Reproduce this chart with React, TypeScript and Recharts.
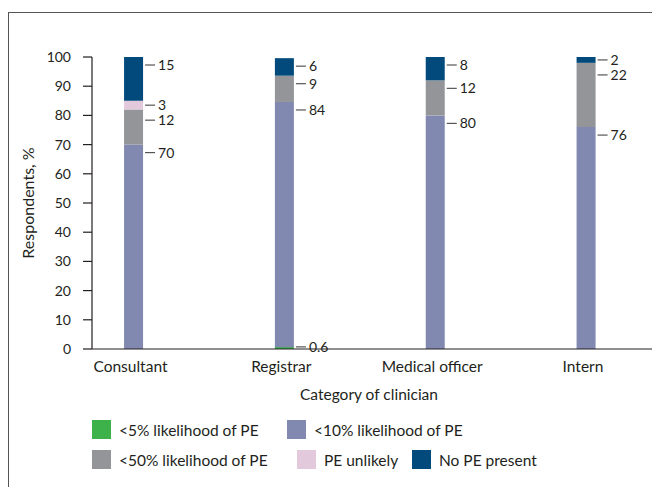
import { BarChart, Bar, XAxis, YAxis, LabelList } from "recharts"

const categories = ["Consultant", "Registrar", "Medical officer", "Intern"]
const seriesNames = [
    "<5% likelihood of PE",
    "<10% likelihood of PE",
    "<50% likelihood of PE",
    "PE unlikely",
    "No PE present",
]
const seriesColors = ["#3db14a", "#8189b0", "#939598", "#e3c9dc", "#024a7c"]

// percent of respondents, bottom to top of each stack
const lt5 = [0, 0.6, 0, 0]
const lt10 = [70, 84, 80, 76]
const lt50 = [12, 9, 12, 22]
const unlikely = [3, 0, 0, 0]
const noPE = [15, 6, 8, 2]
const series = [lt5, lt10, lt50, unlikely, noPE]

const yTicks = [0, 10, 20, 30, 40, 50, 60, 70, 80, 90, 100]
const xTicks = [0, 1, 2, 3]

const data = categories.map((name, i) => {
    const row: { [k: string]: string | number } = { idx: i, name }
    series.forEach((s, j) => {
        row["s" + j] = s[i]
    })
    return row
})

const FONT = "Lato, sans-serif"
const FS = 15.5 // words
const NS = 14 // numbers
const INK = "#231f20"

// legend layout (two rows as in the figure)
const legendSlots = [
    { left: 92, top: 420 },
    { left: 287, top: 420 },
    { left: 92, top: 450 },
    { left: 297, top: 450 },
    { left: 412, top: 450 },
]

// px below a segment's top where its leader line goes; labels are pushed
// down so they don't run into the label of the segment above
function leaderOffset(cat: number, j: number, ppu: number) {
    let prev = -Infinity
    for (let k = series.length - 1; k >= 0; k--) {
        const v = series[k][cat]
        const topPx = series.slice(k + 1).reduce((a, s) => a + s[cat], 0) * ppu
        if (v > 0) {
            let ly = topPx + Math.min(8, (v * ppu) / 2)
            if (ly < prev + 15) ly = prev + 15
            prev = ly
            if (k === j) return ly - topPx
        }
    }
    return 8
}

function makeTag(j: number) {
    return function ValueTag(props: any) {
        const parts = String(props.value ?? "").split("|")
        const cat = parts.length === 2 ? Number(parts[0]) : Number(props.index)
        const value = parts.length === 2 ? Number(parts[1]) : Number(props.value)
        if (!value) return null
        const vb = props.viewBox ?? props
        const x = Number(vb.x)
        const y = Number(vb.y)
        const h = Number(vb.height)
        const w = Number(vb.width)
        const top = Math.min(y, y + h)
        const ppu = 292 / 100
        const ly = top + leaderOffset(cat, j, ppu)
        const x0 = x + w + 2
        return (
            <g>
                <line x1={x0} x2={x0 + 10} y1={ly} y2={ly} stroke="#555" strokeWidth={1.2} />
                <text x={x0 + 13} y={ly} dy="0.35em" fontSize={NS} fill={INK} fontFamily={FONT}>
                    {value}
                </text>
            </g>
        )
    }
}

export default function App() {
    return (
        <div style={{ position: "absolute", left: 0, top: 0, width: 652, height: 487, background: "#fff", overflow: "hidden" }}>
            <div
                style={{
                    position: "absolute",
                    left: 8,
                    top: 12,
                    width: 700,
                    height: 500,
                    borderTop: "1px solid #555",
                    borderLeft: "1px solid #555",
                }}
            />
            <BarChart
                width={652}
                height={487}
                data={data}
                margin={{ top: 57, right: 0, left: 0, bottom: 78 }}
                style={{ fontFamily: FONT }}
            >
                <XAxis
                    type="number"
                    dataKey="idx"
                    domain={[-0.275, 3.4376]}
                    ticks={xTicks}
                    tickFormatter={(v: number) => categories[v] ?? ""}
                    tickLine={false}
                    tickSize={0}
                    tickMargin={12}
                    height={60}
                    axisLine={{ stroke: INK, strokeWidth: 1.2 }}
                    tick={{ fill: INK, fontSize: FS, fontFamily: FONT, dx: -3 }}
                    interval={0}
                    label={{
                        content: (p: any) => (
                            <text
                                x={p.viewBox.x + p.viewBox.width / 2 - 3}
                                y={p.viewBox.y + 51}
                                textAnchor="middle"
                                fontSize={FS}
                                fill={INK}
                                fontFamily={FONT}
                            >
                                Category of clinician
                            </text>
                        ),
                    }}
                />
                <YAxis
                    width={92}
                    domain={[0, 100]}
                    ticks={yTicks}
                    interval={0}
                    tickSize={9}
                    tickMargin={12}
                    axisLine={{ stroke: INK, strokeWidth: 1.2 }}
                    tickLine={{ stroke: INK, strokeWidth: 1.2 }}
                    tick={{ fill: INK, fontSize: NS, fontFamily: FONT }}
                    label={{
                        content: (p: any) => {
                            const cy = p.viewBox.y + p.viewBox.height / 2
                            return (
                                <text
                                    x={33.5}
                                    y={cy}
                                    transform={`rotate(-90, 33.5, ${cy})`}
                                    textAnchor="middle"
                                    fontSize={16}
                                    fill={INK}
                                    fontFamily={FONT}
                                >
                                    Respondents, %
                                </text>
                            )
                        },
                    }}
                />
                {series.map((_, j) => (
                    <Bar
                        key={j}
                        dataKey={"s" + j}
                        name={seriesNames[j]}
                        stackId="a"
                        fill={seriesColors[j]}
                        barSize={19}
                        minPointSize={j === 0 ? ((v: any) => (typeof v === "number" && v > 0 ? 3 : 0)) as any : undefined}
                        isAnimationActive={false}
                    >
                        <LabelList
                            dataKey={(row: any) => `${row.idx}|${row["s" + j]}`}
                            content={makeTag(j)}
                        />
                    </Bar>
                ))}
            </BarChart>
            {seriesNames.map((n, j) => (
                <div
                    key={n}
                    style={{
                        position: "absolute",
                        left: legendSlots[j].left,
                        top: legendSlots[j].top,
                        height: 19,
                        display: "flex",
                        alignItems: "center",
                        fontFamily: FONT,
                        fontSize: FS,
                        color: INK,
                        whiteSpace: "nowrap",
                    }}
                >
                    <span style={{ width: 19, height: 19, background: seriesColors[j], marginRight: 8, display: "inline-block" }} />
                    {n}
                </div>
            ))}
        </div>
    )
}
